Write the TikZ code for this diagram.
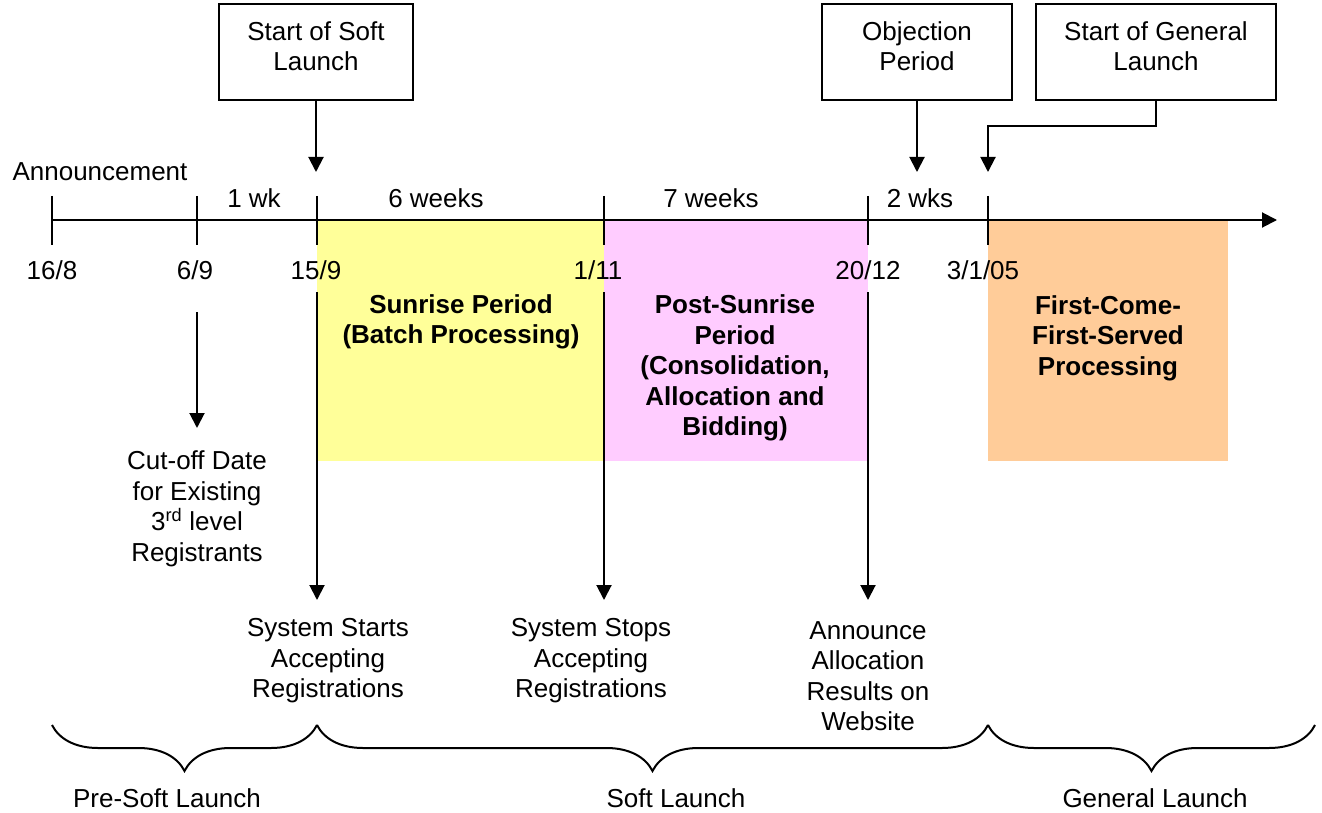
\documentclass[tikz,border=0pt]{standalone}
\usepackage{fontspec}
\setmainfont{Liberation Sans}
\usetikzlibrary{arrows.meta,decorations.pathreplacing}

\definecolor{sunrise}{HTML}{FFFF99}
\definecolor{postsun}{HTML}{FFCCFF}
\definecolor{fcfs}{HTML}{FFCC99}

\tikzset{
  lbl/.style={align=center, inner sep=0pt, font=\fontsize{26}{30.5}\selectfont},
  blbl/.style={lbl, font=\fontsize{26}{30.5}\selectfont\bfseries},
  evbox/.style={draw, line width=2pt, minimum height=96pt, align=center,
    inner sep=0pt, text depth=12pt, font=\fontsize{26}{30.5}\selectfont},
  arr/.style={line width=2pt, -{Triangle[length=15pt,width=15pt]}},
  brc/.style={line width=2pt, decorate, decoration={brace, mirror, amplitude=46pt}},
}

\begin{document}
\begin{tikzpicture}[x=1pt, y=-1pt, line width=2pt]
    \useasboundingbox (0,0) rectangle (1322,813);
    % periods
    \fill [sunrise]  (317,220) rectangle (604,461);
    \fill [postsun]  (604,220) rectangle (868,461);
    \fill [fcfs]     (988,220) rectangle (1228,461);
    \node [blbl] (sunrise)     at (461,322)  {Sunrise Period\\(Batch Processing)};
    \node [blbl] (postsunrise) at (735,368)  {Post-Sunrise\\Period\\(Consolidation,\\Allocation and\\Bidding)};
    \node [blbl] (firstcome)   at (1108,338) {First-Come-\\First-Served\\Processing};
    % timeline
    \coordinate (t1) at (52,220);
    \coordinate (t2) at (197,220);
    \coordinate (t3) at (317,220);
    \coordinate (t4) at (604,220);
    \coordinate (t5) at (868,220);
    \coordinate (t6) at (988,220);
    \coordinate (tend) at (1277,220);
    \draw [arr]      (t1) -- (tend);
    \draw            ([yshift=24pt]t1) -- ([yshift=-25pt]t1);
    \draw            ([yshift=24pt]t2) -- ([yshift=-25pt]t2);
    \draw            ([yshift=24pt]t3) -- ([yshift=-25pt]t3);
    \draw            ([yshift=24pt]t4) -- ([yshift=-25pt]t4);
    \draw            ([yshift=24pt]t5) -- ([yshift=-25pt]t5);
    \draw            ([yshift=24pt]t6) -- ([yshift=-25pt]t6);
    % dates
    \node [lbl] (d1) at (52,270)  {16/8};
    \node [lbl] (d2) at (195,270) {6/9};
    \node [lbl] (d3) at (316,270) {15/9};
    \node [lbl] (d4) at (598,270) {1/11};
    \node [lbl] (d5) at (868,270) {20/12};
    \node [lbl] (d6) at (983,270) {3/1/05};
    % spans
    \node [lbl] (ann)  at (100,172) {Announcement};
    \node [lbl] (wk1)  at (254,198) {1 wk};
    \node [lbl] (wk6)  at (436,198) {6 weeks};
    \node [lbl] (wk7)  at (711,198) {7 weeks};
    \node [lbl] (wk2)  at (920,198) {2 wks};
    % events above
    \node [evbox, minimum width=194pt] (softbox) at (316,52)  {Start of Soft\\Launch};
    \node [evbox, minimum width=190pt] (objbox)  at (917,52)  {Objection\\Period};
    \node [evbox, minimum width=240pt] (genbox)  at (1156,52) {Start of General\\Launch};
    \coordinate (softtip) at (316,172);
    \coordinate (objtip)  at (917,172);
    \coordinate (gentip)  at (988,172);
    \draw [arr]      (softbox.south) -- (softtip);
    \draw [arr]      (objbox.south) -- (objtip);
    \draw [arr]      (genbox.south) -- ++(0,25) -| (gentip);
    % events below
    \coordinate (cut0) at (197,312);
    \coordinate (cut1) at (197,428);
    \coordinate (sys0) at (317,292);
    \coordinate (sys1) at (317,600);
    \coordinate (stp0) at (604,292);
    \coordinate (stp1) at (604,600);
    \coordinate (anc0) at (868,292);
    \coordinate (anc1) at (868,600);
    \draw [arr]      (cut0) -- (cut1);
    \draw [arr]      (sys0) -- (sys1);
    \draw [arr]      (stp0) -- (stp1);
    \draw [arr]      (anc0) -- (anc1);
    \node [lbl] (cutoff)   at (197,509) {Cut-off Date\\for Existing\\3\textsuperscript{rd} level\\Registrants};
    \node [lbl] (starts)   at (328,661) {System Starts\\Accepting\\Registrations};
    \node [lbl] (stops)    at (591,661) {System Stops\\Accepting\\Registrations};
    \node [lbl] (announce) at (868,676) {Announce\\Allocation\\Results on\\Website};
    % phases
    \coordinate (b1) at (52,725);
    \coordinate (b2) at (317,725);
    \coordinate (b3) at (988,725);
    \coordinate (b4) at (1315,725);
    \draw [brc]      (b1) -- (b2);
    \draw [brc]      (b2) -- (b3);
    \draw [brc]      (b3) -- (b4);
    \node [lbl] (presoft) at (167,798)  {Pre-Soft Launch};
    \node [lbl] (soft)    at (676,798)  {Soft Launch};
    \node [lbl] (general) at (1155,798) {General Launch};
\end{tikzpicture}
\end{document}
